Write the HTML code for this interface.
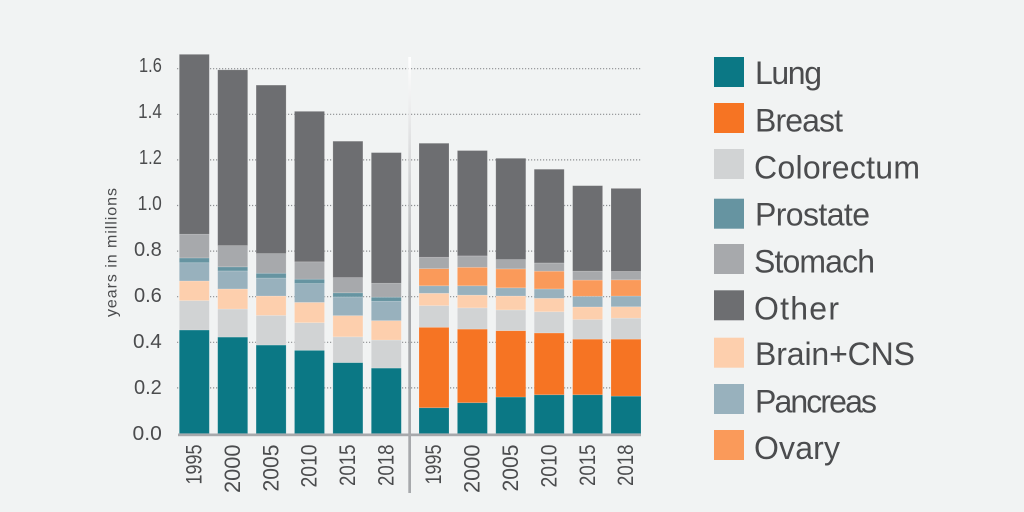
<!DOCTYPE html>
<html lang="en">
<head>
<meta charset="utf-8">
<title>Years of life lost by cancer type</title>
<style>
html,body{margin:0;padding:0;background:#f1f3f3;}
body{width:1024px;height:512px;overflow:hidden;}
svg{display:block;font-family:"Liberation Sans",sans-serif;}
text{fill:#4b4c4e;}
</style>
</head>
<body>
<svg id="chart" xmlns="http://www.w3.org/2000/svg" width="1024" height="512" viewBox="0 0 1024 512">
  <defs>
    <linearGradient id="dividerFade" x1="0" y1="0" x2="0" y2="1">
      <stop offset="0" stop-color="#ffffff"/>
      <stop offset="0.55" stop-color="#a7a9ac"/>
      <stop offset="1" stop-color="#a7a9ac"/>
    </linearGradient>
  </defs>
  <rect x="0" y="0" width="1024" height="512" fill="#f1f3f3"/>
  <g id="grid"></g>
  <g id="bars"></g>
  <g id="yticks"></g>
  <g id="xticks"></g>
  <rect x="178" y="433.5" width="463" height="2.7" fill="#a7a9ac"/>
  <rect x="408.3" y="57" width="2.7" height="436" fill="url(#dividerFade)"/>
  <text transform="translate(116.5,317) rotate(-90)" font-size="16" textLength="129">years in millions</text>

  <g>
    <g>
      <rect x="714" y="57" width="30" height="30" fill="#0b7885"/>
      <text x="755" y="84" font-size="32" textLength="67">Lung</text>
    </g>
    <g>
      <rect x="714" y="103" width="30" height="30" fill="#f67423"/>
      <text x="755" y="131.7" font-size="32" textLength="88">Breast</text>
    </g>
    <g>
      <rect x="714" y="149" width="30" height="30" fill="#d1d3d4"/>
      <text x="754" y="178.3" font-size="32" textLength="166">Colorectum</text>
    </g>
    <g>
      <rect x="714" y="198.7" width="30" height="30" fill="#6694a1"/>
      <text x="755" y="225.7" font-size="32" textLength="115">Prostate</text>
    </g>
    <g>
      <rect x="714" y="244" width="30" height="30" fill="#a7a9ac"/>
      <text x="754" y="272.7" font-size="32" textLength="121">Stomach</text>
    </g>
    <g>
      <rect x="714" y="290.3" width="30" height="30" fill="#6d6e71"/>
      <text x="754" y="319.3" font-size="32" textLength="85">Other</text>
    </g>
    <g>
      <rect x="714" y="337.7" width="30" height="30" fill="#fdcfad"/>
      <text x="755" y="365" font-size="32" textLength="160">Brain+CNS</text>
    </g>
    <g>
      <rect x="714" y="384" width="30" height="30" fill="#98b1bd"/>
      <text x="755" y="412.3" font-size="32" textLength="122">Pancreas</text>
    </g>
    <g>
      <rect x="714" y="430" width="30" height="30" fill="#fa9a5a"/>
      <text x="754" y="459" font-size="32" textLength="86">Ovary</text>
    </g>
  </g>
</svg>

<script>
const categories = ['1995', '2000', '2005', '2010', '2015', '2018'];
const yTicks = [0, 0.2, 0.4, 0.6, 0.8, 1.0, 1.2, 1.4, 1.6];

const leftLung       = [0.454, 0.423, 0.388, 0.365, 0.311, 0.287];
const leftColorectum = [0.129, 0.123, 0.130, 0.121, 0.113, 0.123];
const leftBrain      = [0.086, 0.088, 0.085, 0.089, 0.093, 0.085];
const leftPancreas   = [0.080, 0.079, 0.079, 0.083, 0.082, 0.085];
const leftProstate   = [0.021, 0.018, 0.021, 0.019, 0.018, 0.018];
const leftStomach    = [0.104, 0.093, 0.086, 0.076, 0.067, 0.061];
const leftOther      = [0.789, 0.771, 0.739, 0.660, 0.598, 0.573];

const rightLung       = [0.113, 0.135, 0.160, 0.170, 0.170, 0.164];
const rightBreast     = [0.353, 0.323, 0.291, 0.271, 0.244, 0.250];
const rightColorectum = [0.095, 0.093, 0.091, 0.093, 0.086, 0.092];
const rightBrain      = [0.054, 0.056, 0.061, 0.059, 0.055, 0.050];
const rightPancreas   = [0.033, 0.041, 0.036, 0.041, 0.047, 0.047];
const rightOvary      = [0.075, 0.081, 0.083, 0.078, 0.071, 0.071];
const rightStomach    = [0.050, 0.050, 0.041, 0.036, 0.039, 0.037];
const rightOther      = [0.500, 0.462, 0.444, 0.411, 0.375, 0.364];

const colorOf = {
  lung: '#0b7885', breast: '#f67423', colorectum: '#d1d3d4', prostate: '#6694a1',
  stomach: '#a7a9ac', other: '#6d6e71', brain: '#fdcfad', pancreas: '#98b1bd', ovary: '#fa9a5a'
};

const leftStack = [
  ['lung', leftLung], ['colorectum', leftColorectum], ['brain', leftBrain],
  ['pancreas', leftPancreas], ['prostate', leftProstate], ['stomach', leftStomach], ['other', leftOther]
];
const rightStack = [
  ['lung', rightLung], ['breast', rightBreast], ['colorectum', rightColorectum], ['brain', rightBrain],
  ['pancreas', rightPancreas], ['ovary', rightOvary], ['stomach', rightStomach], ['other', rightOther]
];

const NS = 'http://www.w3.org/2000/svg';
const yScale = v => 433.5 - v * 228;
const xBand = (start, i) => start + i * 38.4;
const BAR_W = 30;
const digitW = {'0': 12.5, '1': 7, '2': 11, '5': 11, '8': 11, '9': 11, '4': 12, '6': 11, '.': 6};
const textW = s => s.split('').reduce((a, c) => a + (digitW[c] || 11), 0);

const gridG = document.getElementById('grid');
yTicks.filter(v => v > 0).forEach(v => {
  const line = document.createElementNS(NS, 'line');
  
  
  line.setAttribute('x1', 177);
  line.setAttribute('x2', 641);
  line.setAttribute('y1', yScale(v));
  line.setAttribute('y2', yScale(v));
  line.setAttribute('stroke', '#8d8f92');
  line.setAttribute('stroke-width', '1.2');
  line.setAttribute('stroke-dasharray', '1.2 1.8');
  gridG.appendChild(line);
});

const barsG = document.getElementById('bars');
function drawGroup(stack, start, groupName) {
  categories.forEach((cat, i) => {
    let acc = 0;
    stack.forEach(([key, values]) => {
      const y0 = yScale(acc);
      acc += values[i];
      const y1 = yScale(acc);
      const r = document.createElementNS(NS, 'rect');
      
      
      r.setAttribute('x', xBand(start, i));
      r.setAttribute('y', y1);
      r.setAttribute('width', BAR_W);
      r.setAttribute('height', y0 - y1);
      r.setAttribute('fill', colorOf[key]);
      r.setAttribute('stroke', '#ffffff');
      r.setAttribute('stroke-opacity', '0.22');
      r.setAttribute('stroke-width', '0.7');
      barsG.appendChild(r);
    });
  });
}
drawGroup(leftStack, 179.3, 'left');
drawGroup(rightStack, 419, 'right');

const yG = document.getElementById('yticks');
yTicks.forEach(v => {
  const label = v.toFixed(1);
  const t = document.createElementNS(NS, 'text');
  
  
  const w = (textW(label) - 6) * 0.93 + 6;
  t.setAttribute('x', 161.8 - w);
  t.setAttribute('y', 440 - v * 230);
  t.setAttribute('font-size', '20.5');
  t.setAttribute('textLength', w);
  t.setAttribute('lengthAdjust', 'spacingAndGlyphs');
  t.textContent = label;
  yG.appendChild(t);
});

const xG = document.getElementById('xticks');
function drawXLabels(start, groupName) {
  categories.forEach((cat, i) => {
    const t = document.createElementNS(NS, 'text');
    
    
    const w = textW(cat);
    const cx = xBand(start, i) + BAR_W / 2;
    t.setAttribute('transform', 'translate(' + (cx + 7.2) + ',' + (444.5 + w) + ') rotate(-90)');
    t.setAttribute('font-size', '22');
    t.setAttribute('textLength', w);
    t.setAttribute('lengthAdjust', 'spacingAndGlyphs');
    t.textContent = cat;
    xG.appendChild(t);
  });
}
drawXLabels(179.3, 'left');
drawXLabels(419, 'right');
</script>
</body>
</html>
